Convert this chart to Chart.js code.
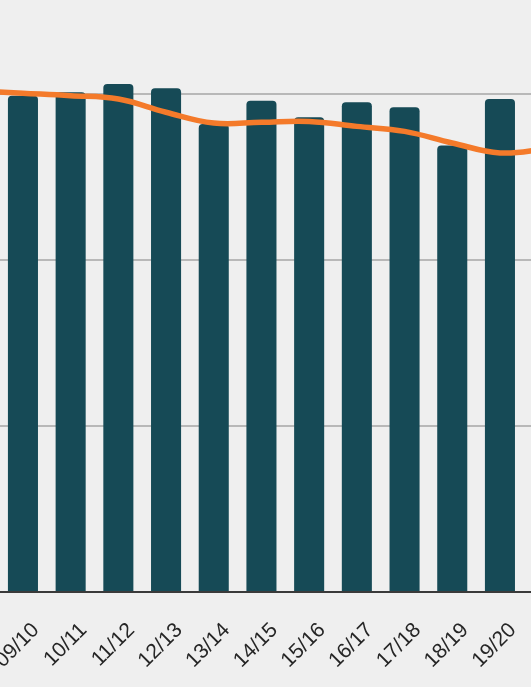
<!DOCTYPE html>
<html>
<head>
<meta charset="utf-8">
<script src="https://cdn.jsdelivr.net/npm/chart.js@4/dist/chart.umd.min.js"></script>
<style>
    html, body { margin: 0; padding: 0; background: #efefef; }
    .crop { position: relative; width: 531px; height: 687px; overflow: hidden; background: #efefef; }
    #chart { position: absolute; left: -60px; top: -100px; }
</style>
</head>
<body>
<div class="crop">
    <canvas id="chart" width="700" height="812"></canvas>
</div>
<script>
// ===== season data =====
const seasons = ['08/09', '09/10', '10/11', '11/12', '12/13', '13/14', '14/15',
                 '15/16', '16/17', '17/18', '18/19', '19/20', '20/21'];
const barValues = [30.0, 29.9, 30.1, 30.6, 30.35, 28.2, 29.6, 28.6, 29.5, 29.2, 26.9, 29.7, null];
const trendValues = [30.2, 30.05, 29.9, 29.7, 28.9, 28.25, 28.3, 28.35, 28.05, 27.75, 27.05, 26.45, 26.7];
const gridTicks = [0, 10, 20, 30, 40];

const barColor = '#164a56';
const lineColor = '#f47a2a';

new Chart(document.getElementById('chart').getContext('2d'), {
    data: {
        labels: seasons,
        datasets: [
            {
                type: 'line',
                data: trendValues,
                borderColor: lineColor,
                borderWidth: 5.5,
                pointRadius: 0,
                tension: 0.4,
                order: 0
            },
            {
                type: 'bar',
                data: barValues,
                backgroundColor: barColor,
                borderRadius: { topLeft: 4, topRight: 4 },
                borderSkipped: 'bottom',
                barPercentage: 0.63,
                categoryPercentage: 1,
                order: 1
            }
        ]
    },
    options: {
        responsive: false,
        animation: false,
        devicePixelRatio: 1,
        layout: { padding: { left: 11.4, right: 68.5, top: 28, bottom: 0 } },
        plugins: { legend: { display: false }, tooltip: { enabled: false } },
        scales: {
            x: {
                offset: true,
                grid: { display: false },
                border: { color: '#3a3a3a', width: 2 },
                ticks: {
                    minRotation: 45,
                    maxRotation: 45,
                    autoSkip: false,
                    padding: 18,
                    labelOffset: 13,
                    color: '#262626',
                    font: { family: 'Liberation Sans', size: 21 },
                    callback: (v, i) => barValues[i] == null ? '' : seasons[i]
                },
                afterFit: (scale) => {
                    scale.height = 120;
                    scale.paddingLeft = 0;
                    scale.paddingRight = 0;
                }
            },
            y: {
                min: gridTicks[0],
                max: gridTicks[gridTicks.length - 1],
                afterBuildTicks: (scale) => { scale.ticks = gridTicks.map(v => ({ value: v })); },
                ticks: { display: false },
                border: { display: false },
                grid: {
                    drawTicks: false,
                    lineWidth: 2,
                    color: (ctx) => ctx.tick && ctx.tick.value === 0 ? '#3a3a3a' : '#b8b8b8'
                },
                afterFit: (scale) => { scale.width = 0; }
            }
        }
    }
});
</script>
</body>
</html>
